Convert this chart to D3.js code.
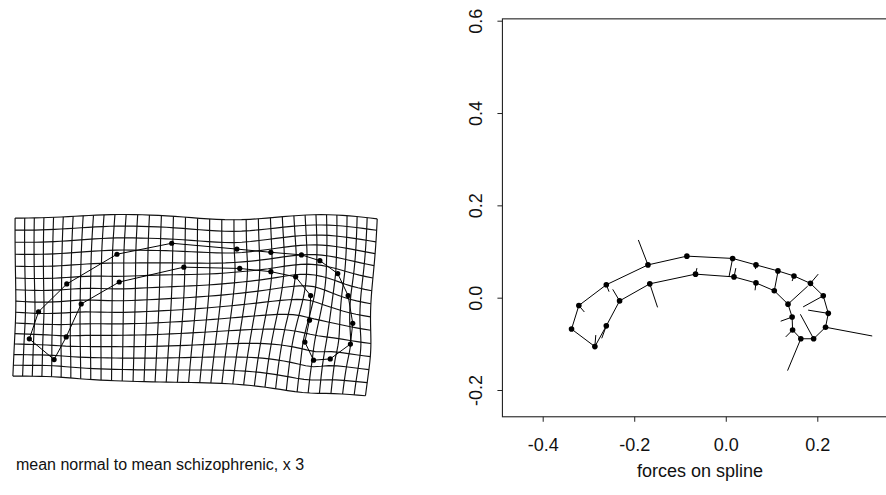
<!DOCTYPE html>
<html><head><meta charset="utf-8">
<script src="https://cdn.jsdelivr.net/npm/d3@7"></script>
<style>body{margin:0;background:#fff} svg{display:block}</style>
</head><body>
<svg id="c" width="886" height="495"></svg>
<script>
// Landmarks (mean shape) as plotted in the right panel
const landmarkX = [-0.337,-0.321,-0.261,-0.170,-0.085,0.015,0.066,0.114,0.149,0.185,0.213,0.224,0.218,0.192,0.164,0.146,0.145,0.136,0.106,0.066,0.018,-0.066,-0.166,-0.232,-0.261,-0.286];
const landmarkY = [-0.068,-0.017,0.028,0.071,0.090,0.085,0.071,0.058,0.047,0.031,0.004,-0.034,-0.064,-0.089,-0.089,-0.070,-0.042,-0.014,0.015,0.032,0.045,0.051,0.030,-0.007,-0.061,-0.106];
// Force vectors at each landmark
const forceDX = [0,0.012,0.006,-0.021,0,-0.008,-0.001,0,-0.004,0.017,-0.044,-0.044,0.102,-0.029,-0.029,-0.015,-0.025,0.043,0.008,-0.002,0.004,0.003,0.017,-0.015,-0.010,0.002];
const forceDY = [0,-0.014,-0.015,0.054,0,-0.040,-0.009,0,-0.011,0.020,-0.024,0.007,-0.019,0.053,-0.069,-0.015,-0.009,0.039,0.041,-0.016,0.019,0.013,-0.051,0.025,-0.027,0.025];
// Landmarks after the (x3) deformation, shown in the left panel
const warpedX = [-0.337,-0.321,-0.272,-0.185,-0.090,0.023,0.082,0.135,0.167,0.198,0.216,0.224,0.220,0.185,0.156,0.141,0.149,0.151,0.125,0.082,0.028,-0.069,-0.181,-0.247,-0.273,-0.294];
const warpedY = [-0.058,-0.016,0.027,0.073,0.090,0.081,0.076,0.072,0.063,0.043,0.009,-0.034,-0.066,-0.089,-0.091,-0.063,-0.029,0.009,0.038,0.046,0.051,0.053,0.030,-0.004,-0.055,-0.090];
// Grid (undeformed) extent and number of cells
const gridXRange = [-0.366, 0.256];
const gridYRange = [-0.137, 0.136];
const gridCols = 33, gridRows = 14;

const xTicks = [-0.4, -0.2, 0.0, 0.2];
const xTickLabels = ["-0.4", "-0.2", "0.0", "0.2"];
const yTicks = [-0.2, 0.0, 0.2, 0.4, 0.6];
const yTickLabels = ["-0.2", "0.0", "0.2", "0.4", "0.6"];
const xLimits = [-0.488, 0.37];
const yLimits = [-0.258, 0.604];
const leftCaption = "mean normal to mean schizophrenic, x 3";
const rightCaption = "forces on spline";

const svg = d3.select("#c");
const FONT = "'Liberation Sans', Arial, Helvetica, sans-serif";

// ---------- Thin-plate spline ----------
function U(r2){ return r2 <= 0 ? 0 : r2 * Math.log(r2); }
function solve(A, b){
  const n = b.length;
  const M = A.map((row,i)=>row.concat([b[i]]));
  for (let c=0;c<n;c++){
    let p=c; for(let r=c+1;r<n;r++) if(Math.abs(M[r][c])>Math.abs(M[p][c])) p=r;
    [M[c],M[p]]=[M[p],M[c]];
    for(let r=0;r<n;r++){ if(r===c) continue; const f=M[r][c]/M[c][c]; if(f===0) continue;
      for(let k=c;k<=n;k++) M[r][k]-=f*M[c][k]; }
  }
  return M.map((row,i)=>row[n]/row[i]);
}
const n = landmarkX.length;
const A = [];
for (let i=0;i<n+3;i++){ A.push(new Array(n+3).fill(0)); }
for (let i=0;i<n;i++){
  for (let j=0;j<n;j++){
    const dx=landmarkX[i]-landmarkX[j], dy=landmarkY[i]-landmarkY[j];
    A[i][j]=U(dx*dx+dy*dy);
  }
  A[i][n]=1; A[i][n+1]=landmarkX[i]; A[i][n+2]=landmarkY[i];
  A[n][i]=1; A[n+1][i]=landmarkX[i]; A[n+2][i]=landmarkY[i];
}
const wx = solve(A, warpedX.concat([0,0,0]));
const wy = solve(A, warpedY.concat([0,0,0]));
function warp(u,v){
  let fx = wx[n]+wx[n+1]*u+wx[n+2]*v, fy = wy[n]+wy[n+1]*u+wy[n+2]*v;
  for(let i=0;i<n;i++){ const dx=u-landmarkX[i], dy=v-landmarkY[i]; const k=U(dx*dx+dy*dy); fx+=wx[i]*k; fy+=wy[i]*k; }
  return [fx,fy];
}

// ---------- Left panel ----------
const lx = d3.scaleLinear().domain([0,1]).range([223.6, 800.1]);
const ly = d3.scaleLinear().domain([0,1]).range([301.4, -344.6]);
const gu = d3.scaleLinear().domain([0,gridCols]).range(gridXRange);
const gv = d3.scaleLinear().domain([0,gridRows]).range(gridYRange);
const left = svg.append("g");
const gline = d3.line().x(d=>lx(d[0])).y(d=>ly(d[1]));
const samples = 48;
const gridPaths = [];
for (let i=0;i<=gridCols;i++){
  const pts=[]; for(let s=0;s<=samples;s++){ pts.push(warp(gu(i), gv(s*gridRows/samples))); }
  gridPaths.push(pts);
}
for (let j=0;j<=gridRows;j++){
  const pts=[]; for(let s=0;s<=samples;s++){ pts.push(warp(gu(s*gridCols/samples), gv(j))); }
  gridPaths.push(pts);
}
left.selectAll("path.grid").data(gridPaths).join("path").attr("class","grid")
  .attr("d", gline).attr("fill","none").attr("stroke","#111").attr("stroke-width",1.15);
const warpedPts = warpedX.map((x,i)=>[x,warpedY[i]]);
left.append("path").datum(warpedPts)
  .attr("d", d3.line().x(d=>lx(d[0])).y(d=>ly(d[1])).curve(d3.curveLinearClosed))
  .attr("fill","none").attr("stroke","#000").attr("stroke-width",1);
left.selectAll("circle").data(warpedPts).join("circle")
  .attr("cx",d=>lx(d[0])).attr("cy",d=>ly(d[1])).attr("r",2.6).attr("fill","#000");
left.append("text").attr("x",160).attr("y",470).attr("text-anchor","middle")
  .attr("font-family",FONT).attr("font-size",16).attr("fill","#111").text(leftCaption);

// ---------- Right panel ----------
const xs = d3.scaleLinear().domain([-0.4,0.2]).range([542.7,817.3]);
const ys = d3.scaleLinear().domain([-0.2,0.6]).range([390,20.7]);
const right = svg.append("g");
right.append("rect").attr("x",xs(xLimits[0])).attr("y",ys(yLimits[1]))
  .attr("width",xs(xLimits[1])-xs(xLimits[0])).attr("height",ys(yLimits[0])-ys(yLimits[1]))
  .attr("fill","none").attr("stroke","#222").attr("stroke-width",1.1);
const xAxis = d3.axisBottom(xs).tickValues(xTicks).tickSize(5).tickFormat((d,i)=>xTickLabels[i]);
const gx = right.append("g").attr("transform",`translate(0,${ys(yLimits[0])})`).call(xAxis);
gx.select(".domain").remove();
gx.selectAll("line").attr("stroke","#222");
gx.selectAll("text").attr("font-family",FONT).attr("font-size",18).attr("fill","#111").attr("dy",null).attr("y",34);
const yAxis = d3.axisLeft(ys).tickValues(yTicks).tickSize(5).tickFormat((d,i)=>yTickLabels[i]);
const gy = right.append("g").attr("transform",`translate(${xs(xLimits[0])},0)`).call(yAxis);
gy.select(".domain").remove();
gy.selectAll("line").attr("stroke","#222");
gy.selectAll("text").attr("font-family",FONT).attr("font-size",18).attr("fill","#111")
  .attr("text-anchor","middle").attr("x",null).attr("dy",null)
  .attr("transform","translate(-20,0) rotate(-90)");
const pts = landmarkX.map((x,i)=>[x,landmarkY[i]]);
right.append("path").datum(pts)
  .attr("d", d3.line().x(d=>xs(d[0])).y(d=>ys(d[1])).curve(d3.curveLinearClosed))
  .attr("fill","none").attr("stroke","#000").attr("stroke-width",1);
right.selectAll("line.force").data(pts.map((p,i)=>[p,[p[0]+forceDX[i],p[1]+forceDY[i]]]).filter(d=>d[0][0]!==d[1][0]||d[0][1]!==d[1][1]))
  .join("line").attr("class","force")
  .attr("x1",d=>xs(d[0][0])).attr("y1",d=>ys(d[0][1])).attr("x2",d=>xs(d[1][0])).attr("y2",d=>ys(d[1][1]))
  .attr("stroke","#000").attr("stroke-width",1);
right.selectAll("circle").data(pts).join("circle")
  .attr("cx",d=>xs(d[0])).attr("cy",d=>ys(d[1])).attr("r",2.8).attr("fill","#000");
right.append("text").attr("x",700).attr("y",477).attr("text-anchor","middle")
  .attr("font-family",FONT).attr("font-size",18).attr("fill","#111").text(rightCaption);
</script>
</body></html>
